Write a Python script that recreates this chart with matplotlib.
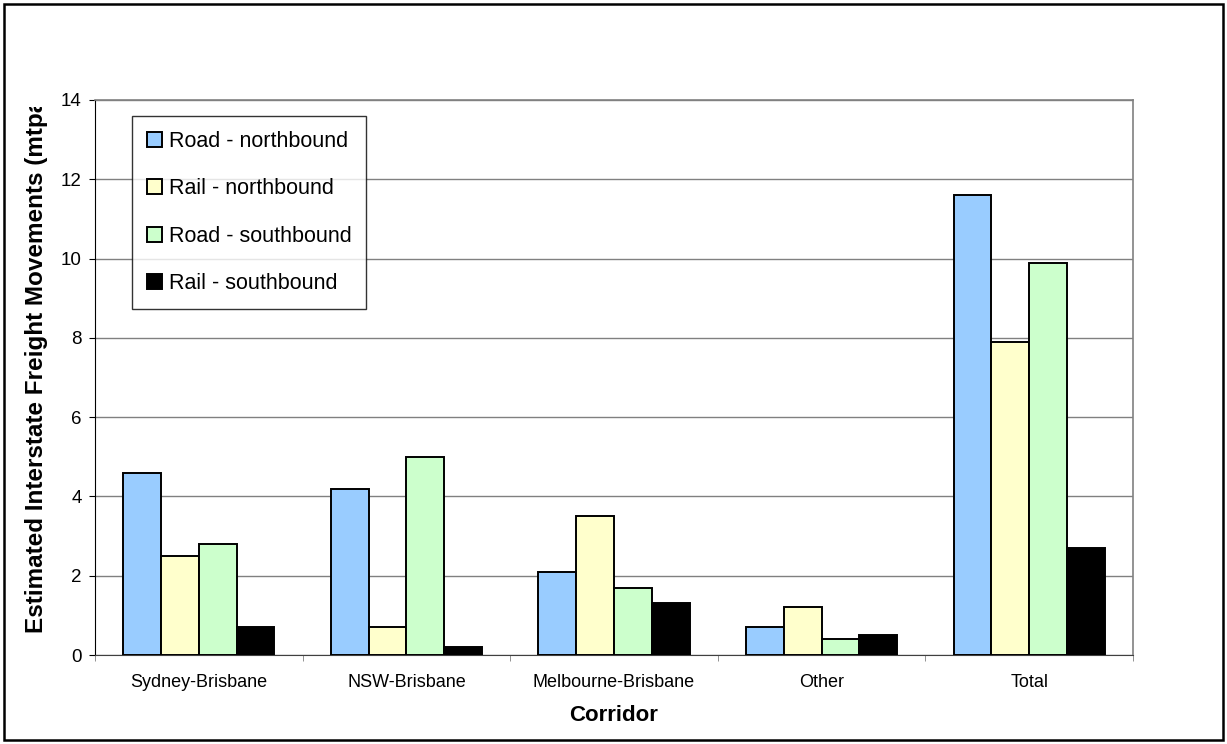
import numpy as np
import matplotlib.pyplot as plt
from matplotlib.patches import Rectangle
from matplotlib.transforms import Bbox, TransformedBbox

plt.rcParams['font.family'] = ['Liberation Sans', 'DejaVu Sans']

corridors = ["Sydney-Brisbane", "NSW-Brisbane", "Melbourne-Brisbane", "Other", "Total"]
road_north = [4.6, 4.2, 2.1, 0.7, 11.6]
rail_north = [2.5, 0.7, 3.5, 1.2, 7.9]
road_south = [2.8, 5.0, 1.7, 0.4, 9.9]
rail_south = [0.7, 0.2, 1.3, 0.5, 2.7]

series = [
    ("Road - northbound", road_north, "#99ccff"),
    ("Rail - northbound", rail_north, "#ffffcc"),
    ("Road - southbound", road_south, "#ccffcc"),
    ("Rail - southbound", rail_south, "#000000"),
]

fig = plt.figure(figsize=(12.27, 7.44), dpi=100)
ax = fig.add_axes([95 / 1227, 89 / 744, 1038 / 1227, 555 / 744])

x = np.arange(len(corridors))
w = 0.182
for i, (name, vals, col) in enumerate(series):
    ax.bar(x + (i - 1.5) * w, vals, w, color=col, edgecolor="black",
           linewidth=1.4, label=name, zorder=3)

ax.set_xlim(-0.5, len(corridors) - 0.5)
ax.set_ylim(0, 14)
ax.set_yticks(np.arange(0, 15, 2))
ax.yaxis.grid(True, color="#808080", linewidth=1.0, zorder=0)

ax.set_xticks(x)
ax.set_xticklabels(corridors)
ax.set_xticks(np.arange(-0.5, len(corridors)), minor=True)
ax.tick_params(axis="x", which="major", length=0, pad=14, labelsize=13)
ax.tick_params(axis="x", which="minor", length=4.5, color="#808080", direction="out")
ax.tick_params(axis="y", length=4.5, pad=5, labelsize=13.5, direction="out")

for side in ("top", "right"):
    ax.spines[side].set_color("#808080")
    ax.spines[side].set_linewidth(1.2)
ax.spines["left"].set_color("black")
ax.spines["bottom"].set_color("#404040")

ax.set_xlabel("Corridor", fontsize=16, fontweight="bold", labelpad=9.5)

# y label, cut off at the top of the plot area
ylab = fig.text(37 / 1227, 111 / 744, "Estimated Interstate Freight Movements (mtpa)",
                rotation=90, ha="center", va="bottom", fontsize=17.5, fontweight="bold")
ylab.set_clip_on(True)
ylab.set_clip_box(TransformedBbox(Bbox([[0, 0], [1, (744 - 107) / 744]]), fig.transFigure))

leg = ax.legend(loc="upper left", bbox_to_anchor=(37 / 1038, 1 - 16 / 555),
                borderaxespad=0, fontsize=15.5, frameon=True, fancybox=False,
                handlelength=0.7, handleheight=0.7, handletextpad=0.3,
                labelspacing=1.22, borderpad=0.7)
leg.get_frame().set_edgecolor("black")
leg.get_frame().set_linewidth(1.0)

# outer chart border
fig.patches.append(Rectangle((4 / 1227, 4 / 744), 1219 / 1227, 736 / 744,
                             transform=fig.transFigure, fill=False,
                             edgecolor="black", linewidth=1.8))

fig.savefig("out.png", dpi=100)
